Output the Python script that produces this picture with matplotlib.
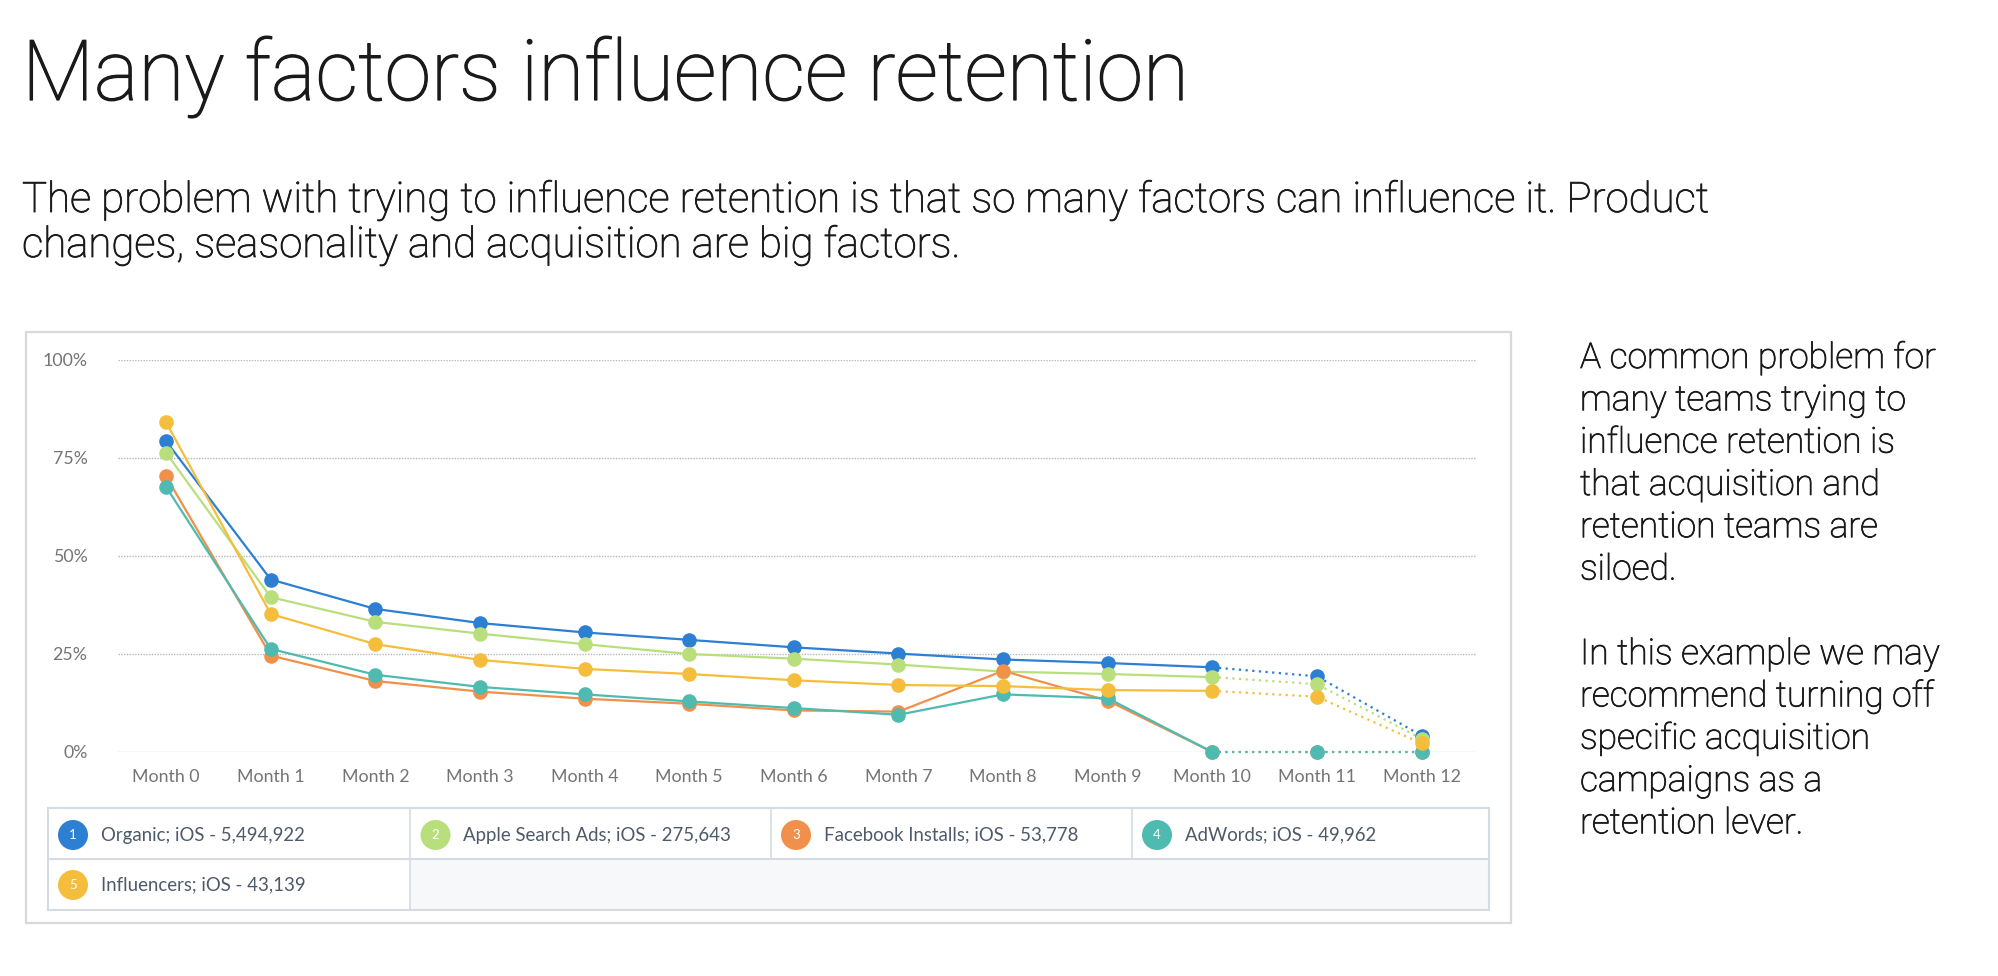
import matplotlib

matplotlib.use('Agg')
import matplotlib.pyplot as plt
import matplotlib.patheffects as pe
from matplotlib.patches import Rectangle, Circle

# retention per month, in percent
months = ['Month %d' % i for i in range(13)]
organic = [79.3, 44.0, 36.5, 32.9, 30.5, 28.6, 26.7, 25.1, 23.6, 22.7, 21.6, 19.3, 4.2]
apple_search = [76.3, 39.5, 33.2, 30.2, 27.5, 25.0, 23.8, 22.3, 20.5, 19.9, 19.1, 17.3, 3.4]
facebook = [70.3, 24.6, 18.1, 15.4, 13.6, 12.3, 10.6, 10.3, 20.7, 13.1, 0.0, 0.0, 0.0]
adwords = [67.6, 26.3, 19.7, 16.6, 14.7, 12.9, 11.2, 9.5, 14.7, 13.7, 0.0, 0.0, 0.0]
influencers = [84.1, 35.2, 27.5, 23.5, 21.2, 19.9, 18.3, 17.1, 16.8, 15.8, 15.6, 14.1, 2.2]

series_names = ['Organic; iOS - 5,494,922', 'Apple Search Ads; iOS - 275,643',
                'Facebook Installs; iOS - 53,778', 'AdWords; iOS - 49,962',
                'Influencers; iOS - 43,139']
series_values = [organic, apple_search, facebook, adwords, influencers]
colors = ['#2d7fd3', '#b9df7d', '#f0904a', '#4fbab0', '#f5bd3c']
yticks = [0, 25, 50, 75, 100]
ytick_labels = ['0%', '25%', '50%', '75%', '100%']

title = 'Many factors influence retention'
subtitle = ['The problem with trying to influence retention is that so many factors can influence it. Product',
            'changes, seasonality and acquisition are big factors.']
side_text = ['A common problem for', 'many teams trying to', 'influence retention is',
             'that acquisition and', 'retention teams are', 'siloed.', '',
             'In this example we may', 'recommend turning off', 'specific acquisition',
             'campaigns as a', 'retention lever.']

W, H = 1999, 976
fig = plt.figure(figsize=(W / 100, H / 100), dpi=100)
fig.patch.set_facecolor('white')

def fx(px):
    return px / W

def fy(py):
    return 1 - py / H

txt_font = 'Roboto'
ink = '#1a1a1a'
fig.text(fx(22), fy(100), title, fontsize=60.5, family=txt_font, fontweight='light',
         color=ink, va='baseline',
         path_effects=[pe.withStroke(linewidth=0.9, foreground=ink)])
for i, line in enumerate(subtitle):
    fig.text(fx(22), fy(212 + i * 45), line, fontsize=30.2, family=txt_font,
             fontweight='light', color=ink, va='baseline',
             path_effects=[pe.withStroke(linewidth=0.6, foreground=ink)])
for i, line in enumerate(side_text):
    fig.text(fx(1580), fy(368 + i * 42.3), line, fontsize=25.5, family=txt_font,
             fontweight='light', color=ink, va='baseline',
             path_effects=[pe.withStroke(linewidth=0.6, foreground=ink)])

# chart frame
fig.add_artist(Rectangle((fx(26), fy(923)), fx(1511 - 26), (923 - 332) / H,
                         transform=fig.transFigure, facecolor='white',
                         edgecolor='#d9d9d9', linewidth=1.6, zorder=-5))

chart_font = 'Lato'
ax = fig.add_axes([fx(118), fy(752), fx(1476 - 118), (752 - 360) / H])
ax.patch.set_alpha(0)
ax.set_xlim(-0.46, 12.52)
ax.set_ylim(0, 100)
for s in ax.spines.values():
    s.set_visible(False)
for t in yticks:
    ax.axhline(t, color='#b8b8b8', linewidth=1.0, linestyle=(0, (1, 1)), zorder=1)
ax.set_yticks(yticks)
ax.set_yticklabels(ytick_labels)
ax.set_xticks(range(len(months)))
ax.set_xticklabels(months)
ax.tick_params(length=0, labelsize=12.8, labelcolor='#747474', pad=12)
ax.tick_params(axis='y', pad=22)
for lab in ax.get_xticklabels() + ax.get_yticklabels():
    lab.set_family(chart_font)

x = list(range(len(months)))
for vals, c in zip(series_values, colors):
    ax.plot(x[:11], vals[:11], color=c, linewidth=1.6, zorder=3, clip_on=False)
    ax.plot(x[10:], vals[10:], color=c, linewidth=1.6, linestyle=(0, (1, 2)),
            zorder=3, clip_on=False)
    ax.plot(x, vals, linestyle='none', marker='o', markersize=10.5, color=c,
            markeredgewidth=0, zorder=4, clip_on=False)

# legend grid
lx0, ly0, lx1, ly1 = 48, 808, 1489, 910
lax = fig.add_axes([fx(lx0), fy(ly1), fx(lx1 - lx0), (ly1 - ly0) / H])
lax.set_xlim(lx0, lx1)
lax.set_ylim(ly1, ly0)
lax.axis('off')
col_edges = [48, 410.5, 771, 1132, 1489]
row_mid = [835, 885]
lax.add_patch(Rectangle((410.5, 859), 1489 - 410.5, 51, facecolor='#f6f8fa',
                        edgecolor='none', zorder=1))
border = '#d3dbe3'
lax.add_patch(Rectangle((lx0, ly0), lx1 - lx0, ly1 - ly0, facecolor='none',
                        edgecolor=border, linewidth=1.5, zorder=3, clip_on=False))
lax.plot([lx0, lx1], [859, 859], color=border, linewidth=1.5, zorder=3)
for e in col_edges[1:-1]:
    lax.plot([e, e], [ly0, 859], color=border, linewidth=1.2, zorder=3)
lax.plot([410.5, 410.5], [859, ly1], color=border, linewidth=1.2, zorder=3)

for i, (name, c) in enumerate(zip(series_names, colors)):
    row, col = divmod(i, 4)
    cx = col_edges[col] + 25
    cy = row_mid[row]
    lax.add_patch(Circle((cx, cy), 15, facecolor=c, edgecolor='none', zorder=4))
    lax.text(cx, cy, str(i + 1), color='white', fontsize=9.5, ha='center', va='center',
             family=chart_font, zorder=5)
    lax.text(cx + 28, cy, name, color='#4d5a69', fontsize=13.4, ha='left',
             va='center', family=chart_font, zorder=5)

fig.savefig('out.png', dpi=100, facecolor='white')
